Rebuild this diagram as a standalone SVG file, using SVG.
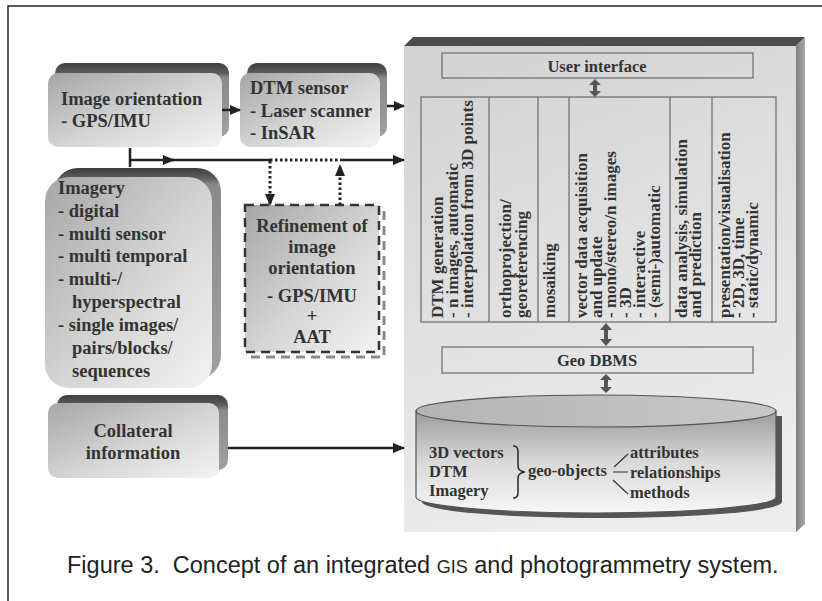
<svg xmlns="http://www.w3.org/2000/svg" width="822" height="601" viewBox="0 0 822 601">
  <defs>
    <linearGradient id="faceGrad" x1="0" y1="0" x2="1" y2="1">
      <stop offset="0" stop-color="#a6a6a6"/>
      <stop offset="0.55" stop-color="#d6d6d6"/>
      <stop offset="1" stop-color="#f3f3f3"/>
    </linearGradient>
    <linearGradient id="bevelShort" x1="0" y1="0" x2="0" y2="1">
      <stop offset="0" stop-color="#3e3e3e"/>
      <stop offset="0.13" stop-color="#5a5a5a"/>
      <stop offset="0.2" stop-color="#8a8a8a"/>
      <stop offset="1" stop-color="#a0a0a0"/>
    </linearGradient>
    <linearGradient id="bevelTall" x1="0" y1="0" x2="0" y2="1">
      <stop offset="0" stop-color="#3e3e3e"/>
      <stop offset="0.045" stop-color="#5a5a5a"/>
      <stop offset="0.08" stop-color="#8a8a8a"/>
      <stop offset="1" stop-color="#a0a0a0"/>
    </linearGradient>
    <linearGradient id="panelGrad" x1="0" y1="0" x2="0.3" y2="1">
      <stop offset="0" stop-color="#d2d2d2"/>
      <stop offset="1" stop-color="#ececec"/>
    </linearGradient>
    <linearGradient id="panelSide" x1="0" y1="0" x2="1" y2="0">
      <stop offset="0" stop-color="#7e7e7e"/>
      <stop offset="1" stop-color="#a8a8a8"/>
    </linearGradient>
    <linearGradient id="cylGrad" x1="0" y1="0" x2="0" y2="1">
      <stop offset="0" stop-color="#9c9c9c"/>
      <stop offset="0.5" stop-color="#d9d9d9"/>
      <stop offset="1" stop-color="#f7f7f7"/>
    </linearGradient>
    <linearGradient id="cylTop" x1="0" y1="0" x2="1" y2="0">
      <stop offset="0" stop-color="#b4b4b4"/>
      <stop offset="1" stop-color="#c8c8c8"/>
    </linearGradient>
    <marker id="arrow" viewBox="0 0 12 10" refX="11" refY="5" markerWidth="12" markerHeight="10" markerUnits="userSpaceOnUse" orient="auto">
      <path d="M0,0 L12,5 L0,10 z" fill="#222"/>
    </marker>
    <marker id="arrowSmall" viewBox="0 0 11 10" refX="10" refY="5" markerWidth="11" markerHeight="10" markerUnits="userSpaceOnUse" orient="auto">
      <path d="M0,0 L11,5 L0,10 z" fill="#222"/>
    </marker>
  </defs>
  <style>
    .lbl { font-family: "Liberation Serif", "Times New Roman", serif; font-weight: bold; fill: #333; }
    .big { font-size: 18.5px; }
    .mid { font-size: 16.5px; }
    .col { font-size: 17px; }
    .face { fill: url(#faceGrad); }
    .line { stroke: #222; stroke-width: 2.5; fill: none; }
    .dot { stroke: #222; stroke-width: 3; fill: none; stroke-dasharray: 2.5 2.5; }
    .thin { stroke: #6a6a6a; stroke-width: 1.2; fill: none; }
    .dbl { fill: #555; }
    .cap { font-family: "Liberation Sans", Arial, sans-serif; font-size: 23.5px; fill: #222; }
  </style>

  <!-- page frame -->
  <rect width="822" height="601" fill="#fff"/>
  <path d="M8,601 V6 H822" stroke="#222" stroke-width="1.5" fill="none"/>

  <!-- image orientation -->
  <g id="image-orientation">
    <rect x="55" y="63" width="174" height="74" rx="10" fill="url(#bevelShort)"/>
    <rect class="face" x="48" y="73" width="174" height="74" rx="10"/>
    <text class="lbl big" x="61" y="105">Image orientation</text>
    <text class="lbl big" x="61" y="127">- GPS/IMU</text>
  </g>

  <!-- DTM sensor -->
  <g id="dtm-sensor">
    <rect x="247" y="63" width="140" height="74" rx="10" fill="url(#bevelShort)"/>
    <rect class="face" x="240" y="73" width="140" height="74" rx="10"/>
    <text class="lbl big" x="250" y="94">DTM sensor</text>
    <text class="lbl big" x="250" y="117">- Laser scanner</text>
    <text class="lbl big" x="250" y="139">- InSAR</text>
  </g>

  <!-- imagery -->
  <g id="imagery">
    <rect x="54" y="168" width="167" height="211" rx="24" fill="url(#bevelTall)"/>
    <rect class="face" x="45" y="177" width="167" height="211" rx="24"/>
    <text class="lbl big" x="58" y="194">Imagery</text>
    <text class="lbl big" x="58" y="217">- digital</text>
    <text class="lbl big" x="58" y="240">- multi sensor</text>
    <text class="lbl big" x="58" y="262">- multi temporal</text>
    <text class="lbl big" x="58" y="285">- multi-/</text>
    <text class="lbl big" x="72" y="308">hyperspectral</text>
    <text class="lbl big" x="58" y="331">- single images/</text>
    <text class="lbl big" x="72" y="354">pairs/blocks/</text>
    <text class="lbl big" x="72" y="377">sequences</text>
  </g>

  <!-- refinement of image orientation -->
  <g id="refinement">
    <rect x="250" y="210" width="134" height="147" fill="none" stroke="#8a8a8a" stroke-width="3" stroke-dasharray="9 6"/>
    <rect x="245" y="205" width="134" height="147" fill="url(#faceGrad)" stroke="#333" stroke-width="2.5" stroke-dasharray="9 6"/>
    <g class="lbl big" text-anchor="middle">
      <text x="312" y="232">Refinement of</text>
      <text x="312" y="253">image</text>
      <text x="312" y="274">orientation</text>
      <text x="312" y="302">- GPS/IMU</text>
      <text x="312" y="322">+</text>
      <text x="312" y="343">AAT</text>
    </g>
  </g>

  <!-- collateral information -->
  <g id="collateral">
    <rect x="57" y="395" width="171" height="75" rx="10" fill="url(#bevelShort)"/>
    <rect class="face" x="48" y="403" width="171" height="75" rx="10"/>
    <g class="lbl big" text-anchor="middle">
      <text x="133" y="437">Collateral</text>
      <text x="133" y="459">information</text>
    </g>
  </g>

  <!-- GIS system panel -->
  <g id="gis-panel">
    <polygon points="404,46 413,37 805,37 796,46" fill="#4c4c4c"/>
    <polygon points="796,46 805,37 805,524 796,532" fill="url(#panelSide)"/>
    <rect x="404" y="46" width="392" height="486" fill="url(#panelGrad)"/>
  </g>

  <g id="user-interface">
    <rect class="thin" x="442" y="53" width="311" height="25"/>
    <text class="lbl mid" x="597" y="72" text-anchor="middle">User interface</text>
  </g>

  <g id="functions">
    <rect class="thin" x="421" y="97" width="355" height="225"/>
    <path class="thin" d="M489,97 V322 M538,97 V322 M569,97 V322 M670,97 V322 M712,97 V322"/>
    <g class="lbl col">
      <text transform="translate(443,318) rotate(-90)">DTM generation</text>
      <text transform="translate(458,318) rotate(-90)">- n images, automatic</text>
      <text transform="translate(473,318) rotate(-90)">- interpolation from 3D points</text>
      <text transform="translate(511,318) rotate(-90)">orthoprojection/</text>
      <text transform="translate(527,318) rotate(-90)">georeferencing</text>
      <text transform="translate(555,318) rotate(-90)">mosaiking</text>
      <text transform="translate(587,318) rotate(-90)">vector data acquisition</text>
      <text transform="translate(602,318) rotate(-90)">and update</text>
      <text transform="translate(616,318) rotate(-90)">- mono/stereo/n images</text>
      <text transform="translate(631,318) rotate(-90)">- 3D</text>
      <text transform="translate(645,318) rotate(-90)">- interactive</text>
      <text transform="translate(660,318) rotate(-90)">- (semi-)automatic</text>
      <text transform="translate(687,318) rotate(-90)">data analysis, simulation</text>
      <text transform="translate(701,318) rotate(-90)">and prediction</text>
      <text transform="translate(730,318) rotate(-90)">presentation/visualisation</text>
      <text transform="translate(744,318) rotate(-90)">- 2D, 3D, time</text>
      <text transform="translate(758,318) rotate(-90)">- static/dynamic</text>
    </g>
  </g>

  <g id="geo-dbms">
    <rect class="thin" x="442" y="347" width="311" height="26"/>
    <text class="lbl mid" x="597" y="366" text-anchor="middle">Geo DBMS</text>
  </g>

  <g id="database">
    <path d="M422,416 V502 A180,16 0 0 0 782,502 V416 Z" fill="#555"/>
    <path d="M416,411 V497 A180,16 0 0 0 776,497 V411 Z" fill="url(#cylGrad)" stroke="#555" stroke-width="1.2"/>
    <ellipse cx="596" cy="411" rx="180" ry="16" fill="url(#cylTop)" stroke="#555" stroke-width="1.2"/>
    <g class="lbl mid">
      <text x="429" y="458">3D vectors</text>
      <text x="429" y="477">DTM</text>
      <text x="429" y="496">Imagery</text>
      <text x="528" y="476">geo-objects</text>
      <text x="630" y="458">attributes</text>
      <text x="630" y="478">relationships</text>
      <text x="630" y="498">methods</text>
    </g>
    <path d="M513,446 q5,0 5,5 v15 q0,5 7,6 q-7,1 -7,6 v15 q0,5 -5,5" stroke="#333" stroke-width="1.6" fill="none"/>
    <path d="M614,467 L628,454 M613,472 H628 M613,480 L628,494" stroke="#333" stroke-width="1.2" fill="none"/>
  </g>

  <!-- connectors -->
  <g id="connectors">
    <line class="line" x1="222" y1="110" x2="240" y2="110" marker-end="url(#arrowSmall)"/>
    <line class="line" x1="387" y1="106" x2="404" y2="106" marker-end="url(#arrowSmall)"/>
    <line class="line" x1="130" y1="148" x2="130" y2="167"/>
    <line class="line" x1="129" y1="160" x2="174" y2="160" marker-end="url(#arrow)"/>
    <line class="line" x1="172" y1="160" x2="270" y2="160"/>
    <line class="dot" x1="270" y1="160" x2="340" y2="160"/>
    <line class="line" x1="340" y1="160" x2="404" y2="160" marker-end="url(#arrow)"/>
    <line class="dot" x1="270" y1="161" x2="270" y2="205" marker-end="url(#arrow)"/>
    <line class="dot" x1="340" y1="205" x2="340" y2="165" marker-end="url(#arrow)"/>
    <line class="line" x1="228" y1="448" x2="404" y2="448" marker-end="url(#arrow)"/>
    <!-- two-way links inside the panel -->
    <polygon class="dbl" points="595,79 601,85 597,85 597,91 601,91 595,97 589,91 593,91 593,85 589,85"/>
    <polygon class="dbl" points="606,323 612,330 608,330 608,339 612,339 606,346 600,339 604,339 604,330 600,330"/>
    <polygon class="dbl" points="606,374 612,380 608,380 608,387 612,387 606,393 600,387 604,387 604,380 600,380"/>
  </g>

  <!-- caption -->
  <text class="cap" x="67" y="573" xml:space="preserve">Figure 3.  Concept of an integrated <tspan font-size="18">GIS</tspan> and photogrammetry system.</text>
</svg>
